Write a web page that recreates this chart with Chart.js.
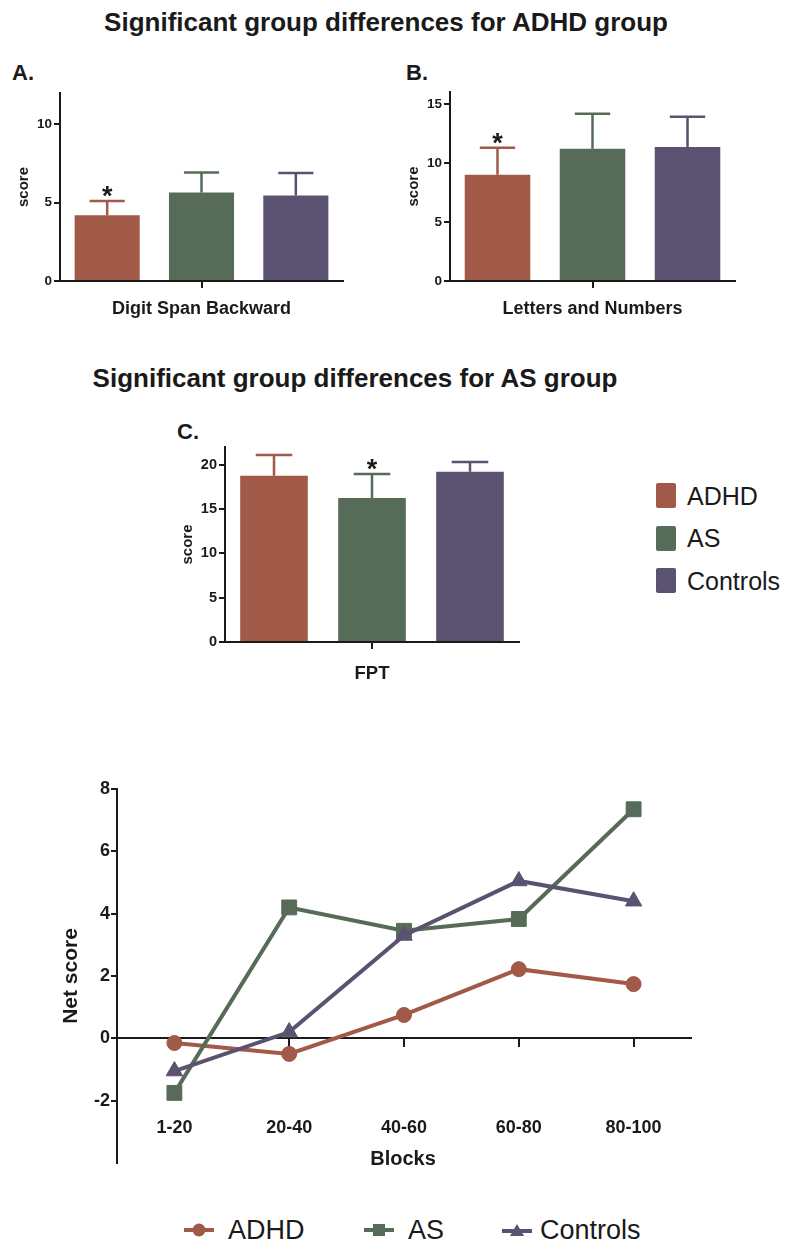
<!DOCTYPE html>
<html>
<head>
<meta charset="utf-8">
<script src="https://cdn.jsdelivr.net/npm/chart.js@4.4.1/dist/chart.umd.min.js"></script>
<style>
  body { margin: 0; background: #fff; font-family: 'Liberation Sans', Arial, sans-serif; color: #1a1a1a; }
  #page { position: relative; width: 786px; height: 1243px; overflow: hidden; }
  .abs { position: absolute; white-space: nowrap; }
  .title { font-weight: bold; font-size: 26px; line-height: 30px; text-align: center; }
  .panel { font-weight: bold; font-size: 22px; line-height: 24px; }
  .sw { position: absolute; width: 20px; height: 25px; border-radius: 2px; }
  .lg { font-size: 25px; line-height: 30px; }
  .lg2 { font-size: 27px; line-height: 32px; }
  canvas { position: absolute; }
</style>
</head>
<body>
<div id="page">
  <div class="abs title" style="left:0; width:772px; top:7px;">Significant group differences for ADHD group</div>
  <div class="abs panel" style="left:12px; top:61px;">A.</div>
  <div class="abs panel" style="left:406px; top:61px;">B.</div>
  <canvas id="chartA" width="360" height="240" style="left:0; top:80px;"></canvas>
  <canvas id="chartB" width="370" height="240" style="left:380px; top:80px;"></canvas>

  <div class="abs title" style="left:0; width:710px; top:363px;">Significant group differences for AS group</div>
  <div class="abs panel" style="left:177px; top:420px;">C.</div>
  <canvas id="chartC" width="370" height="250" style="left:160px; top:435px;"></canvas>

  <div class="sw" style="left:656px; top:483px; background:#a15a47;"></div>
  <div class="abs lg" style="left:687px; top:481px;">ADHD</div>
  <div class="sw" style="left:656px; top:526px; background:#566b58;"></div>
  <div class="abs lg" style="left:687px; top:523px;">AS</div>
  <div class="sw" style="left:656px; top:568px; background:#5a5270;"></div>
  <div class="abs lg" style="left:687px; top:566px;">Controls</div>

  <canvas id="chartNet" width="680" height="400" style="left:30px; top:775px;"></canvas>
  <div class="abs" style="left:303px; width:200px; top:1146px; text-align:center; font-weight:bold; font-size:20px; line-height:24px;">Blocks</div>

  <svg class="abs" style="left:184px; top:1222px;" width="30" height="16"><line x1="0" y1="8" x2="30" y2="8" stroke="#a15a47" stroke-width="4"/><circle cx="15" cy="8" r="6.5" fill="#a15a47"/></svg>
  <div class="abs lg2" style="left:228px; top:1214px;">ADHD</div>
  <svg class="abs" style="left:364px; top:1222px;" width="30" height="16"><line x1="0" y1="8" x2="30" y2="8" stroke="#566b58" stroke-width="4"/><rect x="9" y="2" width="12" height="12" fill="#566b58"/></svg>
  <div class="abs lg2" style="left:408px; top:1214px;">AS</div>
  <svg class="abs" style="left:502px; top:1222px;" width="30" height="16"><line x1="0" y1="9" x2="30" y2="9" stroke="#5a5270" stroke-width="4"/><polygon points="15,2 22,14 8,14" fill="#5a5270"/></svg>
  <div class="abs lg2" style="left:540px; top:1214px;">Controls</div>
</div>

<script>
const groups = ['ADHD', 'AS', 'Controls'];
const groupColors = ['#a15a47', '#566b58', '#5a5270'];

// panel A
const digitSpanMeans = [4.2, 5.65, 5.45];
const digitSpanErrs = [0.9, 1.27, 1.45];
// panel B
const lettersMeans = [9.0, 11.2, 11.35];
const lettersErrs = [2.27, 2.95, 2.55];
// panel C
const fptMeans = [18.75, 16.25, 19.2];
const fptErrs = [2.35, 2.7, 1.1];

// net score over blocks
const blocks = ['1-20', '20-40', '40-60', '60-80', '80-100'];
const adhdNet = [-0.15, -0.5, 0.75, 2.22, 1.74];
const asNet = [-1.75, 4.2, 3.45, 3.83, 7.35];
const controlsNet = [-1.05, 0.2, 3.3, 5.05, 4.4];

const axisColor = '#1a1a1a';
const family = "'Liberation Sans', Arial, sans-serif";

// upward error whiskers + significance star
const errorBars = {
  id: 'errorBars',
  afterDatasetsDraw(chart, args, opts) {
    const ctx = chart.ctx;
    const y = chart.scales.y;
    chart.data.datasets.forEach((ds, i) => {
      const bar = chart.getDatasetMeta(i).data[0];
      const top = y.getPixelForValue(ds.data[0] + ds.err[0]);
      const half = bar.width * 0.27;
      ctx.save();
      ctx.strokeStyle = ds.backgroundColor;
      ctx.lineWidth = 2.5;
      ctx.beginPath();
      ctx.moveTo(bar.x, bar.y);
      ctx.lineTo(bar.x, top);
      ctx.moveTo(bar.x - half, top);
      ctx.lineTo(bar.x + half, top);
      ctx.stroke();
      if (opts.star === i) {
        ctx.fillStyle = axisColor;
        ctx.font = 'bold 27px ' + family;
        ctx.textAlign = 'center';
        ctx.textBaseline = 'alphabetic';
        ctx.fillText('*', bar.x, top + 4);
      }
      ctx.restore();
    });
  }
};

function barChart(id, label, means, errs, c) {
  return new Chart(document.getElementById(id), {
    type: 'bar',
    data: {
      labels: [label],
      datasets: groups.map((g, i) => ({
        label: g,
        data: [means[i]],
        err: [errs[i]],
        backgroundColor: groupColors[i],
        borderWidth: 0,
        categoryPercentage: 1,
        barPercentage: 0.69
      }))
    },
    options: {
      responsive: false,
      animation: false,
      devicePixelRatio: 1,
      layout: { padding: c.pad },
      plugins: { legend: { display: false }, tooltip: { enabled: false }, errorBars: { star: c.star } },
      scales: {
        x: {
          grid: { drawOnChartArea: false, offset: false, tickLength: 7, color: axisColor, lineWidth: 2 },
          border: { color: axisColor, width: 2 },
          ticks: { display: false },
          title: { display: true, text: label, color: axisColor, padding: 0,
                   font: { size: c.labelSize, weight: 'bold', family } },
          afterFit(s) { s.height = c.xh; }
        },
        y: {
          min: 0,
          max: c.yMax,
          grid: { drawOnChartArea: false, tickLength: 6, color: axisColor, lineWidth: 2 },
          border: { color: axisColor, width: 2 },
          ticks: { stepSize: 5, includeBounds: false, padding: 2, color: axisColor,
                   font: { size: c.tickSize, weight: 'bold', family } },
          title: { display: true, text: 'score', color: axisColor, padding: { top: c.yTitlePad, bottom: 0 },
                   font: { size: 15, weight: 'bold', family } },
          afterFit(s) { s.width = c.yw; }
        }
      }
    },
    plugins: [errorBars]
  });
}

barChart('chartA', 'Digit Span Backward', digitSpanMeans, digitSpanErrs,
  { yMax: 12, pad: { top: 13, right: 17, left: 0, bottom: 0 }, yw: 60, xh: 39, labelSize: 18, tickSize: 13.5, yTitlePad: 15, star: 0 });
barChart('chartB', 'Letters and Numbers', lettersMeans, lettersErrs,
  { yMax: 16, pad: { top: 12, right: 15, left: 0, bottom: 0 }, yw: 70, xh: 39, labelSize: 18, tickSize: 13.5, yTitlePad: 25, star: 0 });
barChart('chartC', 'FPT', fptMeans, fptErrs,
  { yMax: 22, pad: { top: 12, right: 11, left: 0, bottom: 0 }, yw: 65, xh: 43, labelSize: 18.5, tickSize: 14.5, yTitlePad: 19, star: 1 });

const pointStyles = ['circle', 'rect', 'triangle'];
const pointRadii = [7.5, 10.5, 9.5];
const netSeries = [adhdNet, asNet, controlsNet];

new Chart(document.getElementById('chartNet'), {
  type: 'line',
  data: {
    labels: blocks,
    datasets: groups.map((g, i) => ({
      label: g,
      data: netSeries[i],
      borderColor: groupColors[i],
      backgroundColor: groupColors[i],
      borderWidth: 4,
      tension: 0,
      pointStyle: pointStyles[i],
      pointRadius: pointRadii[i],
      pointBorderWidth: 1,
      order: 2 - i
    }))
  },
  options: {
    responsive: false,
    animation: false,
    devicePixelRatio: 1,
    layout: { padding: { top: 14, right: 19, bottom: 12, left: 0 } },
    plugins: { legend: { display: false }, tooltip: { enabled: false } },
    scales: {
      x: {
        type: 'category',
        offset: true,
        position: { y: 0 },
        grid: { drawOnChartArea: false, offset: false, tickLength: 8, color: axisColor, lineWidth: 2 },
        border: { color: axisColor, width: 2 },
        ticks: { padding: 71, maxRotation: 0, color: axisColor, font: { size: 18, weight: 'bold', family } },
        afterFit(s) { s.paddingLeft = 0; s.paddingRight = 0; }
      },
      y: {
        min: -4,
        max: 8,
        grid: { drawOnChartArea: false, tickLength: 6, color: axisColor, lineWidth: 2 },
        border: { color: axisColor, width: 2 },
        ticks: { stepSize: 2, padding: 1, color: axisColor, font: { size: 18, weight: 'bold', family } },
        afterBuildTicks(s) { s.ticks = s.ticks.filter(t => t.value > -4); },
        title: { display: true, text: 'Net score', color: axisColor, padding: { top: 29, bottom: 0 },
                 font: { size: 21, weight: 'bold', family } },
        afterFit(s) { s.width = 87; s.paddingTop = 0; s.paddingBottom = 0; }
      }
    }
  }
});
</script>
</body>
</html>
